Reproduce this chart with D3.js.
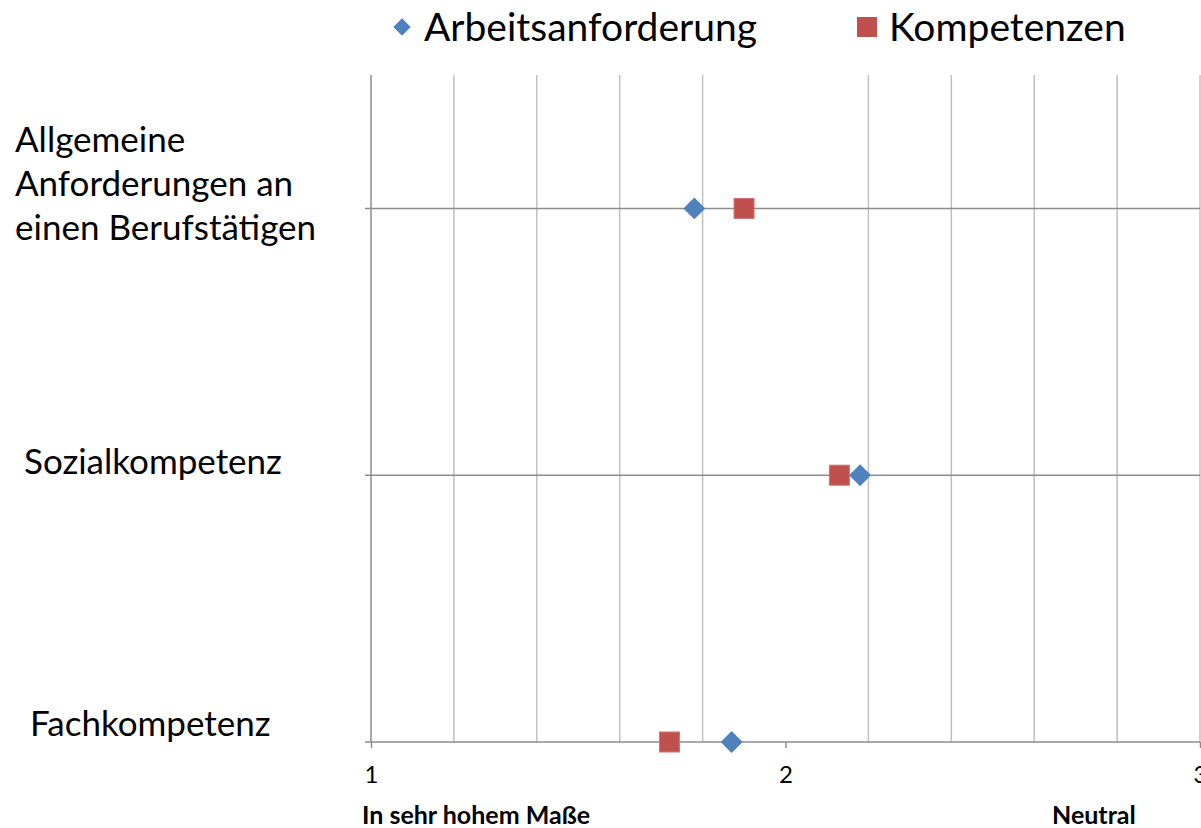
<!DOCTYPE html>
<html>
<head>
<meta charset="utf-8">
<script src="https://cdn.jsdelivr.net/npm/d3@7"></script>
<style>
  body { margin: 0; background: #fff; }
  text { font-family: Lato, "Open Sans", sans-serif; }
</style>
</head>
<body>
<div id="chart"></div>
<script>
// categories, bottom to top
var categories = ["Fachkompetenz", "Sozialkompetenz", "Allgemeine Anforderungen an einen Berufstätigen"];
var categoryLines = [["Fachkompetenz"], ["Sozialkompetenz"], ["Allgemeine", "Anforderungen an", "einen Berufstätigen"]];
var seriesNames = ["Arbeitsanforderung", "Kompetenzen"];
var arbeitsanforderung = [1.87, 2.18, 1.78];
var kompetenzen = [1.72, 2.13, 1.90];
var xTicks = [1, 2, 3];
var xGrid = [1.2, 1.4, 1.6, 1.8, 2.2, 2.4, 2.6, 2.8, 3];

(function() {
  var w = 1201, h = 828;
  var m = {left: 371, right: 1200, top: 75, bottom: 742};

  var svg = d3.select("#chart").append("svg")
      .attr("width", w)
      .attr("height", h);

  var x = d3.scaleLinear().domain([1, 3]).range([m.left, m.right]);
  var y = d3.scaleLinear().domain([0, 2.5]).range([m.bottom, m.top]);

  // vertical gridlines
  svg.append("g").selectAll("line")
      .data(xGrid)
    .enter().append("line")
      .attr("x1", function(d) { return x(d); })
      .attr("x2", function(d) { return x(d); })
      .attr("y1", m.top).attr("y2", m.bottom)
      .attr("stroke", "#c0c0c0").attr("stroke-width", 1.5);

  // horizontal gridlines at categories
  svg.append("g").selectAll("line")
      .data([1, 2])
    .enter().append("line")
      .attr("x1", m.left - 6).attr("x2", m.right)
      .attr("y1", function(d) { return y(d); })
      .attr("y2", function(d) { return y(d); })
      .attr("stroke", "#8c8c8c").attr("stroke-width", 1.5);

  // y axis line
  svg.append("line")
      .attr("x1", m.left).attr("x2", m.left)
      .attr("y1", m.top).attr("y2", m.bottom)
      .attr("stroke", "#8c8c8c").attr("stroke-width", 1.5);

  // x axis
  var xAxis = d3.axisBottom(x).tickValues(xTicks).tickSize(6).tickPadding(18)
      .tickFormat(d3.format("d"));
  var gx = svg.append("g")
      .attr("transform", "translate(0," + m.bottom + ")")
      .call(xAxis);
  gx.select(".domain").remove();
  gx.append("line").attr("x1", m.left - 6).attr("x2", m.right)
      .attr("stroke", "#8c8c8c").attr("stroke-width", 1.5);
  gx.selectAll(".tick line").attr("stroke", "#8c8c8c").attr("stroke-width", 1.5);
  gx.selectAll(".tick text")
      .attr("fill", "#000")
      .style("font-size", "24px")
      .style("font-family", "Lato, sans-serif");

  // category labels
  var catY = [724, 462, 140];
  var catX = [30, 24, 15];
  categoryLines.forEach(function(lines, i) {
    var t = svg.append("text")
        .attr("x", catX[i])
        .attr("y", catY[i])
        .style("font-size", "35px")
        .attr("fill", "#000");
    lines.forEach(function(l, j) {
      t.append("tspan").attr("x", catX[i]).attr("dy", j === 0 ? "0.35em" : "1.26em").text(l);
    });
  });

  // bottom axis captions
  svg.append("text").attr("x", 362).attr("y", 824)
      .style("font-size", "25px").style("font-weight", "bold").text("In sehr hohem Maße");
  svg.append("text").attr("x", 1052).attr("y", 824)
      .style("font-size", "25px").style("font-weight", "bold").text("Neutral");

  var diamond = d3.symbol().type(d3.symbolSquare).size(240);
  var blue = "#4f81bd", red = "#c0504d";

  // series points
  svg.append("g").selectAll("path")
      .data(arbeitsanforderung)
    .enter().append("path")
      .attr("d", diamond)
      .attr("transform", function(d, i) { return "translate(" + x(d) + "," + y(i) + ") rotate(45)"; })
      .attr("fill", blue);

  svg.append("g").selectAll("rect")
      .data(kompetenzen)
    .enter().append("rect")
      .attr("x", function(d) { return x(d) - 10; })
      .attr("y", function(d, i) { return y(i) - 10; })
      .attr("width", 20).attr("height", 20)
      .attr("fill", red)
      .attr("stroke", "#d27270").attr("stroke-width", 1);

  // legend
  var legend = svg.append("g");
  legend.append("path").attr("d", d3.symbol().type(d3.symbolSquare).size(150))
      .attr("transform", "translate(402,27) rotate(45)").attr("fill", blue);
  legend.append("text").attr("x", 424).attr("y", 27).attr("dy", "0.35em")
      .style("font-size", "39px").text(seriesNames[0]);
  legend.append("rect").attr("x", 857).attr("y", 17).attr("width", 20).attr("height", 20).attr("fill", red);
  legend.append("text").attr("x", 889).attr("y", 27).attr("dy", "0.35em")
      .style("font-size", "39px").text(seriesNames[1]);
})();
</script>
</body>
</html>
